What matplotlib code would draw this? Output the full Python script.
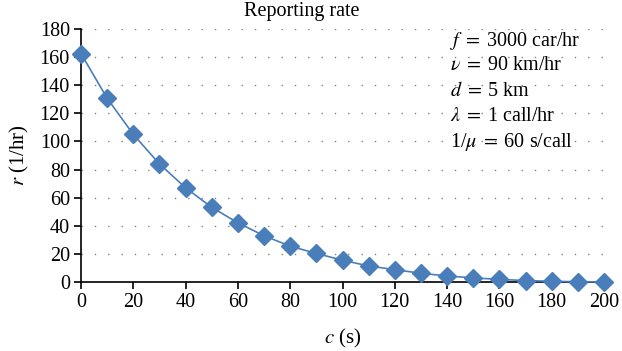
import matplotlib
matplotlib.use("Agg")
import matplotlib.pyplot as plt

# Call delay c (s) and resulting reporting rate r (1/hr)
c_values = [0, 10, 20, 30, 40, 50, 60, 70, 80, 90, 100,
            110, 120, 130, 140, 150, 160, 170, 180, 190, 200]
r_values = [162.5, 130.7, 105.0, 84.0, 67.0, 53.1, 42.1, 32.9, 25.5, 20.3, 15.5,
            11.4, 8.8, 6.2, 4.3, 2.9, 1.9, 1.0, 0.5, 0.2, 0.1]

x_ticks = list(range(0, 201, 20))
y_ticks = list(range(0, 181, 20))

params = [
    r"$f\;=\;$3000 car/hr",
    r"$\nu\;=\;$90 km/hr",
    r"$d\;=\;$5 km",
    r"$\lambda\;=\;$1 call/hr",
    r"1/$\mu\;=\;$60 s/call",
]

plt.rcParams["font.family"] = ["Liberation Serif", "DejaVu Serif"]
plt.rcParams["mathtext.fontset"] = "stix"

fig = plt.figure(figsize=(6.22, 3.51), dpi=100)
ax = fig.add_axes([81 / 622, 1 - 282 / 351, (604 - 81) / 622, (282 - 29) / 351])

line_color = "#4a7ebb"
ax.plot(c_values, r_values, color=line_color, linewidth=1.2,
        marker="D", markersize=9, markerfacecolor=line_color,
        markeredgecolor=line_color, zorder=3, clip_on=False)

ax.set_xlim(0, 200)
ax.set_ylim(0, 180)
ax.set_xticks(x_ticks)
ax.set_yticks(y_ticks)
ax.tick_params(axis="both", labelsize=14.5, direction="out", length=5,
               width=1.2, color="black", pad=3)

for side in ("top", "right"):
    ax.spines[side].set_visible(False)
for side in ("left", "bottom"):
    ax.spines[side].set_linewidth(1.2)

ax.yaxis.grid(True, linestyle=(0, (1, 8.6)), color="#808080", linewidth=1.0)
ax.set_axisbelow(True)

fig.text(302 / 622, 1 - 11.5 / 351, "Reporting rate", fontsize=14.5,
         ha="center", va="center")
ax.set_xlabel(r"$c$ (s)", fontsize=15, labelpad=11)
ax.set_ylabel(r"$r$ (1/hr)", fontsize=15, labelpad=6)

for i, txt in enumerate(params):
    fig.text(450 / 622, 1 - (40.5 + 25.3 * i) / 351, txt, fontsize=14.5,
             ha="left", va="center")

fig.savefig("out.png", dpi=100, facecolor="white")
